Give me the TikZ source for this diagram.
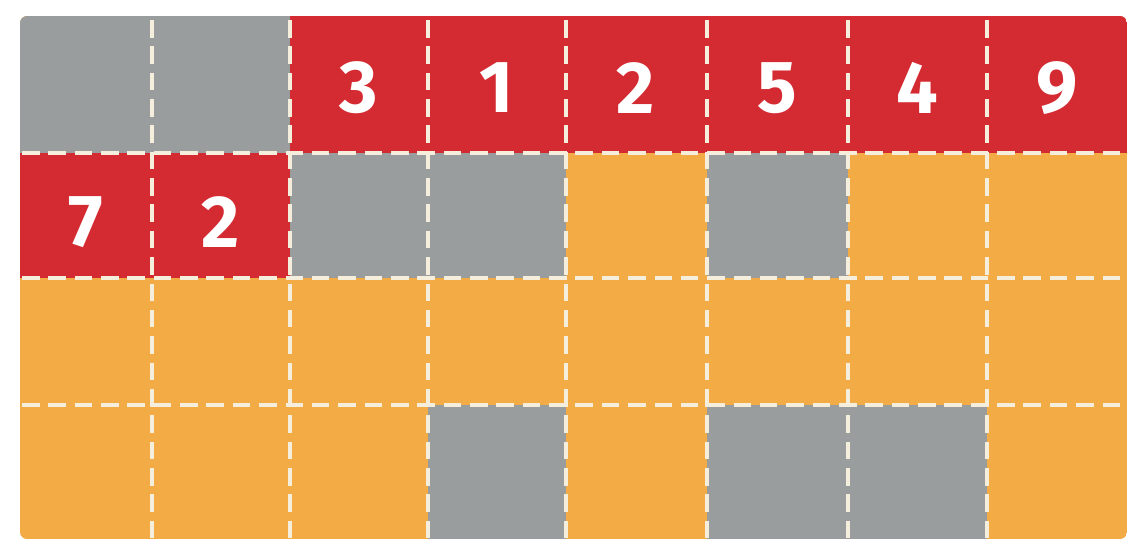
\documentclass[tikz,border=0pt]{standalone}
\usepackage{fontspec}
\setsansfont{Fira Sans}
\usepackage{tikz}
\usetikzlibrary{calc}
\definecolor{slotGray}{HTML}{9A9D9E}
\definecolor{slotRed}{HTML}{D42B32}
\definecolor{slotOrange}{HTML}{F3AC45}
\definecolor{chalk}{HTML}{F6EEDC}
\tikzset{
  seam/.style={draw=chalk, line width=2pt, dash pattern=on 10pt off 5pt},
  digit/.style={text=white, font=\sffamily\bfseries\fontsize{42}{42}\selectfont, inner sep=0pt},
}

\begin{document}
\begin{tikzpicture}[x=0.02cm, y=-0.02cm]
\useasboundingbox (0,0) rectangle (1144,556);
\begin{scope}
\clip[rounded corners=4pt] (20,16) rectangle (1127,539);
\fill[slotOrange] (20,16) rectangle (1127,539);
\fill[slotGray] (20,16) rectangle (290,153);
\fill[slotRed] (290,16) rectangle (1127,153);
\fill[slotRed] (20,153) rectangle (290,278);
\fill[slotGray] (290,153) rectangle (566,278);
\fill[slotGray] (707,153) rectangle (848,278);
\fill[slotGray] (428,405) rectangle (566,539);
\fill[slotGray] (707,405) rectangle (987,539);
\end{scope}
% seams
\foreach \x in {152,290,428,566,707,848,987}
  \draw[seam] (\x,20) -- (\x,538);
\foreach \y in {153,278,405}
  \draw[seam] (22,\y) -- (1125,\y);
% digits
\node[digit] (k1) at (359,88) {3};
\node[digit] (k2) at (497,88) {1};
\node[digit] (k3) at (636,88) {2};
\node[digit] (k4) at (777,88) {5};
\node[digit] (k5) at (917,88) {4};
\node[digit] (k6) at (1057,88) {9};
\node[digit] (p1) at (86,222) {7};
\node[digit] (p2) at (221,222) {2};
\end{tikzpicture}
\end{document}
